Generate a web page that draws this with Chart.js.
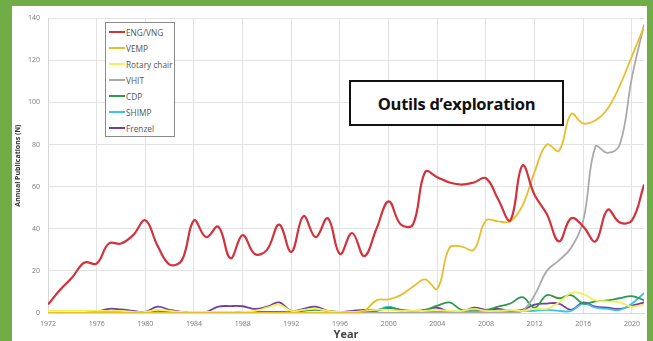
<!DOCTYPE html>
<html lang="fr">
<head>
<meta charset="UTF-8">
<title>Outils d'exploration</title>
<style>
  * { margin: 0; padding: 0; }
  body {
    width: 653px;
    height: 341px;
    background: #70ad47;
    position: relative;
    overflow: hidden;
    font-family: "Open Sans", sans-serif;
  }
  .panel {
    position: absolute;
    left: 12px;
    top: 6px;
    width: 635px;
    height: 335px;
    background: #fff;
  }
  .panel canvas { position: absolute; left: 0; top: 0; }
  .legend {
    position: absolute;
    left: 93px;
    top: 16px;
    width: 68px;
    height: 112px;
    border: 1px solid #8a8a8a;
    background: #fff;
    padding-top: 1px;
  }
  .legend .item {
    height: 16px;
    display: flex;
    align-items: center;
    font-size: 8.3px;
    color: #555;
    white-space: nowrap;
  }
  .legend .swatch {
    width: 16px;
    height: 2px;
    margin: 0 1px 0 3px;
  }
  .note {
    position: absolute;
    left: 337px;
    top: 74px;
    width: 211px;
    height: 42px;
    border: 2px solid #111;
    background: #fff;
    display: flex;
    align-items: center;
    justify-content: center;
    font-family: "Open Sans", sans-serif;
    font-weight: bold;
    font-size: 16.5px;
    letter-spacing: -0.3px;
    color: #111;
  }
</style>
</head>
<body>
<div class="panel">
  <canvas id="pubChart" width="635" height="335"></canvas>
  <div class="legend" id="legend"></div>
  <div class="note">Outils d’exploration</div>
</div>
<script src="https://cdn.jsdelivr.net/npm/chart.js@4.4.0/dist/chart.umd.min.js"></script>
<script>
// years 1972 .. 2021
const years = [1972,1973,1974,1975,1976,1977,1978,1979,1980,1981,
               1982,1983,1984,1985,1986,1987,1988,1989,1990,1991,
               1992,1993,1994,1995,1996,1997,1998,1999,2000,2001,
               2002,2003,2004,2005,2006,2007,2008,2009,2010,2011,
               2012,2013,2014,2015,2016,2017,2018,2019,2020,2021];

const engVng = [4,11,17,24,23.5,33,33,37,44,32,
                23,25,44,36,41,26,37,28,30,42,
                29,46,36,45,28,38,27,40,53,42,
                42,67,64.5,62,61,62,64,54,44,70,
                56,47,34,45,41,34,49,43,44,61];

const vemp = [0,0,0,0,0,0,0,0,0,0,
              0,0,0,0,0,0,0,0,0,0,
              0,0,0,0,0,0,1,6,6.5,8.5,
              12.5,16,11.5,31,31.5,30,44,43.5,43.5,51,
              67,80,77,94.5,90,91.5,97,108,122,136];

const rotaryChair = [1,1,1,1,1,1,1,0.5,0.5,1.5,
                     1,0.5,0.5,0.5,0.5,0.5,0.5,1,2.5,4,
                     1,1.5,2,1,0.5,0.5,1,1.5,1.5,1,
                     1,1,1.5,1,1,2,1,1,1.5,1,
                     2,2,5,9.5,9,6,5.5,5,3,4];

const vhit = [0,0,0,0,0,0,0,0,0,0,
              0,0,0,0,0,0,0,0,0,0,
              0,0,0,0,0,0,0,0,0,0,
              0,0,0,0,0,0,0,0,0,1,
              8.5,20,25,31,44,79,76,80,112,137];

const cdp = [0,0,0,0,0.5,0.5,0.5,0.5,0.5,1,
             0.5,0.5,0.5,0.5,0.5,0.5,0.5,0.5,0.5,0.5,
             0.5,1,1.5,1,0.5,0.5,0.5,1,2.5,1.5,
             1,1.5,3.5,5,1.5,1.5,1.5,3,4.5,7.5,
             2.5,8.5,7,8.5,4.5,5.5,6,7,8,6];

const shimp = [0,0,0,0,0,0,0,0,0,0,
               0,0,0,0,0,0,0,0,0,0,
               0,0,0,0,0,0,0,1,3,1,
               0.5,0.5,0.5,0.5,0.5,0.5,0.5,1,1,1,
               1,1.5,1,1,4.5,2.5,2,1.5,4.5,9.5];

const frenzel = [0,0,0,0,0.5,2,1.7,1,0.5,3,
                 1.5,0.5,0.5,0.5,3,3.3,3.2,2,3,5,
                 1,2,3,1,0.5,1,1.5,1.5,2.5,1.5,
                 0.5,1.5,2.5,0.5,0.5,2.5,1.5,2,1,1.5,
                 4,4.5,4.5,1.5,5,3,2.5,2,3.5,5];

const seriesNames = ['ENG/VNG','VEMP','Rotary chair','VHIT','CDP','SHIMP','Frenzel'];
const seriesValues = [engVng, vemp, rotaryChair, vhit, cdp, shimp, frenzel];
const seriesColors = ['#d2323c','#e6bf2e','#f3ef5c','#aaaaaa','#2f9a4c','#3ec3ea','#7040a0'];

const xTickYears = [1972,1976,1980,1984,1988,1992,1996,2000,2004,2008,2012,2016,2020];
const yTickValues = [0,20,40,60,80,100,120,140];

Chart.defaults.font.family = '"Open Sans", sans-serif';

const datasets = seriesNames.map(function(name, k){
    return {
        label: name,
        data: years.map(function(yr, i){ return {x: yr, y: seriesValues[k][i]}; }),
        borderColor: seriesColors[k],
        borderWidth: k === 0 ? 2.2 : 1.8,
        pointRadius: 0,
        tension: 0.4,
        fill: false
    };
});

const ctx = document.getElementById('pubChart').getContext('2d');
new Chart(ctx, {
    type: 'line',
    data: { datasets: datasets },
    options: {
        responsive: false,
        animation: false,
        layout: { padding: { top: 7, right: 2, left: 0, bottom: 0 } },
        plugins: {
            legend: { display: false },
            tooltip: { enabled: false }
        },
        scales: {
            x: {
                type: 'linear',
                min: 1972,
                max: 2021,
                afterBuildTicks: function(scale){
                    scale.ticks = xTickYears.map(function(v){ return {value: v}; });
                },
                afterFit: function(scale){ scale.height = 28; },
                grid: { color: '#e3e3e3', drawTicks: false },
                border: { color: '#d6d6d6' },
                ticks: {
                    padding: 7,
                    color: '#777',
                    font: { size: 7 },
                    maxRotation: 0,
                    callback: function(v){ return String(v); }
                },
                title: {
                    display: true,
                    text: 'Year',
                    color: '#444',
                    font: { size: 11, weight: 'bold' },
                    padding: 0
                }
            },
            y: {
                min: 0,
                max: 140,
                afterBuildTicks: function(scale){
                    scale.ticks = yTickValues.map(function(v){ return {value: v}; });
                },
                afterFit: function(scale){ scale.width = 36; },
                grid: { color: '#e3e3e3', drawTicks: false },
                border: { color: '#d6d6d6' },
                ticks: {
                    padding: 8,
                    color: '#777',
                    font: { size: 7 }
                },
                title: {
                    display: true,
                    text: 'Annual Publications (N)',
                    color: '#333',
                    font: { size: 7, weight: 'bold' },
                    padding: 2
                }
            }
        }
    }
});

// legend box inside the plot
const legendBox = document.getElementById('legend');
seriesNames.forEach(function(name, k){
    const row = document.createElement('div');
    row.className = 'item';
    const sw = document.createElement('span');
    sw.className = 'swatch';
    sw.style.background = seriesColors[k];
    const txt = document.createElement('span');
    txt.textContent = name;
    row.appendChild(sw);
    row.appendChild(txt);
    legendBox.appendChild(row);
});
</script>
</body>
</html>
